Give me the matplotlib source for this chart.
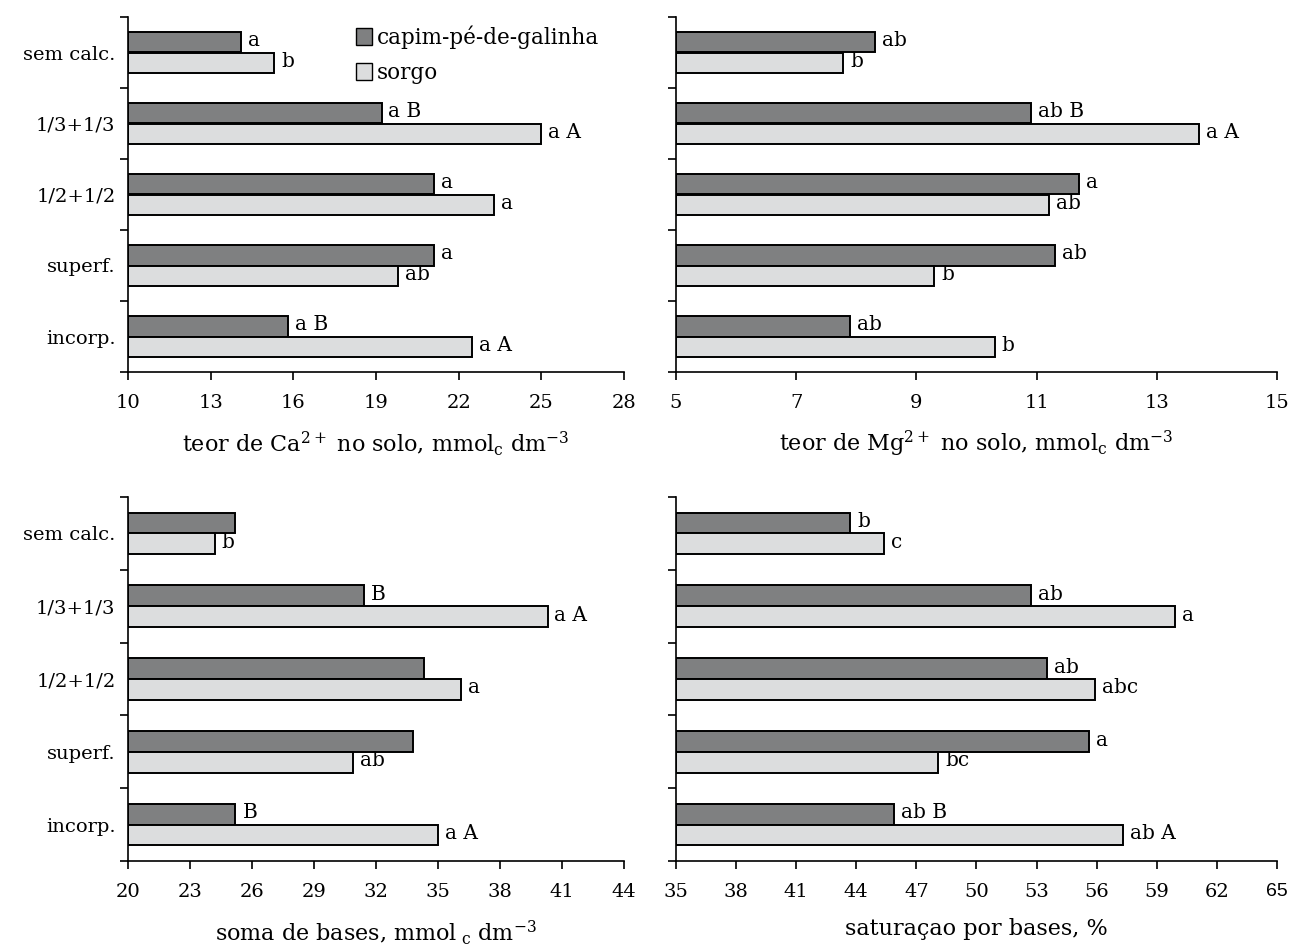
import numpy as np
import matplotlib
matplotlib.use("Agg")
import matplotlib.pyplot as plt
from matplotlib.patches import Patch

plt.rcParams['font.family'] = ['DejaVu Serif']
plt.rcParams['mathtext.fontset'] = 'dejavuserif'
plt.rcParams['font.size'] = 14

# categories (top to bottom)
categories = ["sem calc.", "1/3+1/3", "1/2+1/2", "superf.", "incorp."]
series_names = ["capim-pé-de-galinha", "sorgo"]

# Ca2+
ca_capim = [14.1, 19.2, 21.1, 21.1, 15.8]
ca_sorgo = [15.3, 25.0, 23.3, 19.8, 22.5]
ca_lab_capim = ["a", "a B", "a", "a", "a B"]
ca_lab_sorgo = ["b", "a A", "a", "ab", "a A"]

# Mg2+
mg_capim = [8.31, 10.9, 11.7, 11.3, 7.9]
mg_sorgo = [7.78, 13.7, 11.2, 9.3, 10.3]
mg_lab_capim = ["ab", "ab B", "a", "ab", "ab"]
mg_lab_sorgo = ["b", "a A", "ab", "b", "b"]

# soma de bases
sb_capim = [25.2, 31.4, 34.3, 33.8, 25.2]
sb_sorgo = [24.2, 40.3, 36.1, 30.9, 35.0]
sb_lab_capim = ["", "B", "", "", "B"]
sb_lab_sorgo = ["b", "a A", "a", "ab", "a A"]

# saturacao por bases
v_capim = [43.7, 52.7, 53.5, 55.6, 45.9]
v_sorgo = [45.4, 59.9, 55.9, 48.1, 57.3]
v_lab_capim = ["b", "ab", "ab", "a", "ab B"]
v_lab_sorgo = ["c", "a", "abc", "bc", "ab A"]

dark = "#7f8081"
light = "#dcddde"

fig = plt.figure(figsize=(12.95, 9.49), dpi=100)

W, H = 1295, 949
def box(l, r, t, b):
    return [l / W, 1 - b / H, (r - l) / W, (b - t) / H]

panels = [
    (box(128, 624, 17, 372), ca_capim, ca_sorgo, ca_lab_capim, ca_lab_sorgo,
     (10, 28), np.arange(10, 29, 3),
     r"teor de Ca$^{2+}$ no solo, mmol$_\mathrm{c}$ dm$^{-3}$", True),
    (box(676, 1277, 17, 372), mg_capim, mg_sorgo, mg_lab_capim, mg_lab_sorgo,
     (5, 15), np.arange(5, 16, 2),
     r"teor de Mg$^{2+}$ no solo, mmol$_\mathrm{c}$ dm$^{-3}$", False),
    (box(128, 624, 497, 861), sb_capim, sb_sorgo, sb_lab_capim, sb_lab_sorgo,
     (20, 44), np.arange(20, 45, 3),
     r"soma de bases, mmol$_{\ \mathrm{c}}$ dm$^{-3}$", True),
    (box(676, 1277, 497, 861), v_capim, v_sorgo, v_lab_capim, v_lab_sorgo,
     (35, 65), np.arange(35, 66, 3),
     "saturaçao por bases, %", False),
]

y = np.arange(len(categories))
h = 0.285

for i, (pos, c1, c2, l1, l2, xlim, xt, xlabel, show_cat) in enumerate(panels):
    ax = fig.add_axes(pos)
    b1 = ax.barh(y - h / 2, c1, height=h, color=dark, edgecolor="black", linewidth=1.4)
    b2 = ax.barh(y + h / 2, c2, height=h, color=light, edgecolor="black", linewidth=1.4)
    # bars start at the axis minimum
    for bars, vals in ((b1, c1), (b2, c2)):
        for bar, v in zip(bars, vals):
            bar.set_x(xlim[0])
            bar.set_width(v - xlim[0])
    for bars, labs in ((b1, l1), (b2, l2)):
        for bar, lab in zip(bars, labs):
            ax.annotate(lab, (bar.get_x() + bar.get_width(), bar.get_y() + bar.get_height() / 2),
                        xytext=(5, 1), textcoords="offset points", va="center", ha="left",
                        fontsize=14.5)
    ax.set_xlim(*xlim)
    ax.set_ylim(len(categories) - 0.5, -0.5)
    ax.set_xticks(xt)
    ax.set_yticks(np.arange(-0.5, len(categories)), [])
    if show_cat:
        ax.set_yticks(y, categories, minor=True)
    else:
        ax.set_yticks(y, [""] * len(categories), minor=True)
    ax.tick_params(axis="y", which="minor", length=0, pad=9)
    ax.tick_params(axis="both", which="major", direction="out", length=6, width=1.2)
    ax.tick_params(axis="x", pad=10)
    for s in ("top", "right"):
        ax.spines[s].set_visible(False)
    for s in ("left", "bottom"):
        ax.spines[s].set_linewidth(1.2)
    ax.set_xlabel(xlabel, fontsize=16, labelpad=12)
    if i == 3:
        # last tick label is printed in a sans font in the original
        ax.get_xticklabels()[-1].set_fontfamily("Liberation Sans")
    if i == 0:
        handles = [Patch(facecolor=dark, edgecolor="black"),
                   Patch(facecolor=light, edgecolor="black")]
        ax.legend(handles, series_names, loc="upper left", bbox_to_anchor=(0.42, 1.03),
                  frameon=False, handlelength=0.75, handleheight=0.85, handletextpad=0.25,
                  labelspacing=0.6, fontsize=15.5)

plt.savefig("out.png", dpi=100)
